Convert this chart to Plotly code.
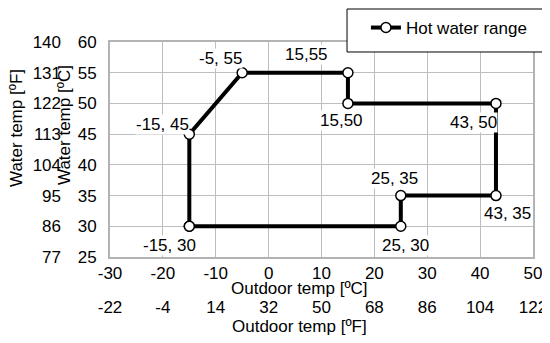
import plotly.graph_objects as go

# data
outdoor_c = [-15, -15, -5, 15, 15, 43, 43, 25, 25, -15]
water_c = [30, 45, 55, 55, 50, 50, 35, 35, 30, 30]
point_labels = ["-15, 30", "-15, 45", "-5, 55", "15,55", "15,50",
                "43, 50", "43, 35", "25, 35", "25, 30"]

x_c_ticks = [-30, -20, -10, 0, 10, 20, 30, 40, 50]
x_f_ticks = [-22, -4, 14, 32, 50, 68, 86, 104, 122]
y_c_ticks = [25, 30, 35, 40, 45, 50, 55, 60]
y_f_ticks = [77, 86, 95, 104, 113, 122, 131, 140]

FONT = "Liberation Sans, Arial, sans-serif"
FS = 17
GRID = "#bdbdbd"
FRAME = "#b3b3b3"


def to_f(c):
    return c * 9 / 5 + 32


fig = go.Figure()
fig.add_trace(go.Scatter(
    x=outdoor_c, y=water_c, mode="lines+markers", name="Hot water range",
    line=dict(color="black", width=4),
    marker=dict(size=10, color="white", line=dict(color="black", width=1.5)),
))
# same polygon in ºF, invisible, just to carry the ºF axes
fig.add_trace(go.Scatter(
    x=[to_f(v) for v in outdoor_c], y=[to_f(v) for v in water_c],
    xaxis="x2", yaxis="y2", mode="lines", line=dict(color="rgba(0,0,0,0)"),
    showlegend=False, hoverinfo="skip",
))

# label offsets in px (dx, dy) for each point label
label_offsets = [(-20, -19), (-27, 10), (-22, 14), (-41, 18), (-6, -17),
                 (-22, -19), (12, -18), (-6, 17), (5, -19)]
for xv, yv, txt, (dx, dy) in zip(outdoor_c, water_c, point_labels, label_offsets):
    fig.add_annotation(x=xv, y=yv, text=txt, showarrow=False, xshift=dx, yshift=dy,
                       xanchor="center", yanchor="middle",
                       bgcolor="white", borderpad=0, font=dict(size=FS, color="black"))

# axis titles
titles = [
    ("Water temp [ºC]", 0.1033, 0.6507, -90),
    ("Water temp [ºF]", 0.0166, 0.6418, -90),
    ("Outdoor temp [ºC]", 0.5387, 0.1612, 0),
    ("Outdoor temp [ºF]", 0.5387, 0.0507, 0),
]
for txt, px_, py_, ang in titles:
    fig.add_annotation(x=px_, y=py_, xref="paper", yref="paper", text=txt,
                       xanchor="center", yanchor="middle",
                       showarrow=False, textangle=ang, font=dict(size=FS, color="black"))

# legend box
fig.add_shape(type="rect", xref="paper", yref="paper", x0=0.6255, x1=0.9871,
              y0=0.8687, y1=0.997, fillcolor="white", line=dict(color="black", width=1),
              layer="above")

# the page adds an 8px body margin, so the figure is 8px smaller each way
fig.update_layout(
    width=542, height=335,
    margin=dict(l=0, r=0, t=0, b=0),
    paper_bgcolor="white", plot_bgcolor="white",
    font=dict(family=FONT, size=FS, color="black"),
    showlegend=True,
    legend=dict(x=0.6604, y=0.9403, xanchor="left", yanchor="middle",
                bgcolor="rgba(0,0,0,0)", borderwidth=0, font=dict(size=FS)),
    xaxis=dict(domain=[0.1882, 0.9686], range=[-30, 50], tickvals=x_c_ticks,
               ticktext=[str(v) for v in x_c_ticks],
               showgrid=True, gridcolor=GRID, gridwidth=1, zeroline=False,
               showline=True, linecolor=FRAME, linewidth=2, mirror=True,
               ticks="outside", ticklen=0, ticklabelstandoff=0, automargin=False),
    yaxis=dict(domain=[0.2567, 0.8985], range=[25, 60], tickvals=y_c_ticks,
               showgrid=True, gridcolor=GRID, gridwidth=1, zeroline=False,
               showline=True, linecolor=FRAME, linewidth=2, mirror=True,
               ticks="outside", ticklen=0, ticklabelstandoff=8, automargin=False),
    xaxis2=dict(overlaying="x", anchor="free", position=0.1433, side="bottom",
                range=[-22, 122], tickvals=x_f_ticks,
                ticktext=[str(v) for v in x_f_ticks], showgrid=False,
                zeroline=False, showline=False, ticks="", automargin=False),
    yaxis2=dict(overlaying="y", anchor="free", position=0.0978, side="left",
                range=[77, 140], tickvals=y_f_ticks, showgrid=False,
                zeroline=False, showline=False, ticks="", automargin=False),
)

fig.write_html("out.html")
